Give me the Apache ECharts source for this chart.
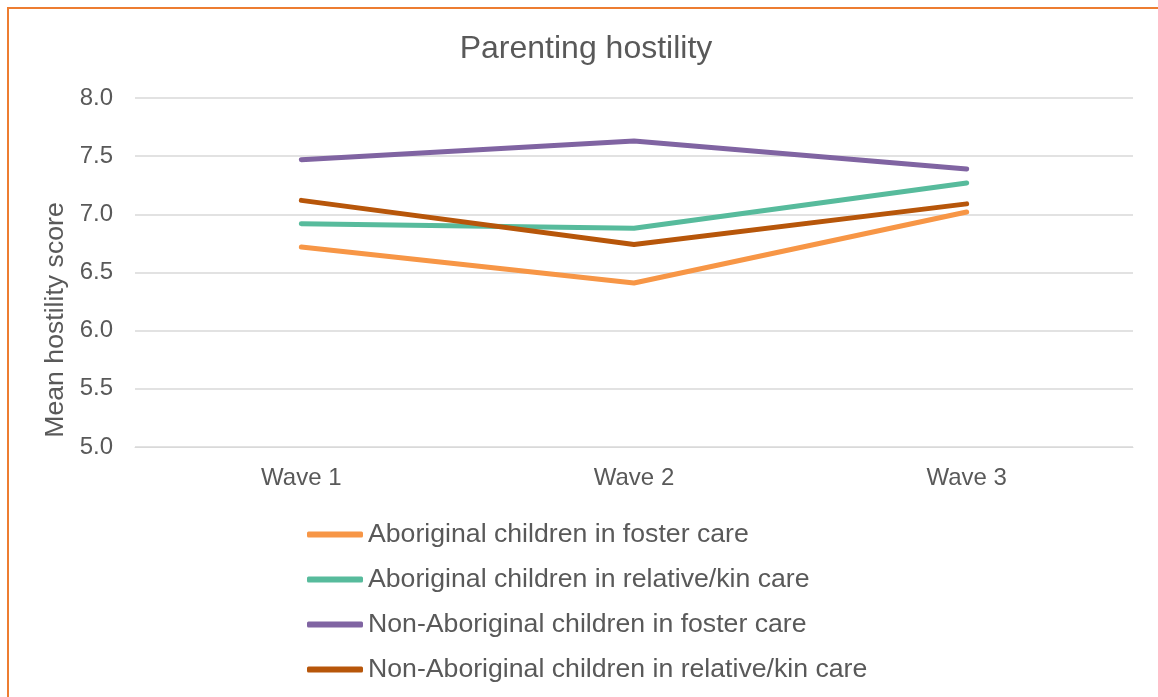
<!DOCTYPE html>
<html>
<head>
<meta charset="utf-8">
<title>Parenting hostility</title>
<script src="https://cdn.jsdelivr.net/npm/echarts@6/dist/echarts.min.js"></script>
<style>
  html, body { margin: 0; padding: 0; background: #fff; }
  #wrap { position: relative; width: 1158px; height: 697px; overflow: hidden; }
  #frame { position: absolute; left: 7px; top: 7px; width: 1200px; height: 740px; border: 2px solid #ED7D31; box-sizing: border-box; }
  #chart { position: absolute; left: 0; top: 0; width: 1158px; height: 697px; }
</style>
</head>
<body>
<div id="wrap">
  <div id="frame"></div>
  <div id="chart"></div>
</div>
<script>
const waves = ["Wave 1", "Wave 2", "Wave 3"];
const series_names = [
    "Aboriginal children in foster care",
    "Aboriginal children in relative/kin care",
    "Non-Aboriginal children in foster care",
    "Non-Aboriginal children in relative/kin care",
];
const abo_foster = [6.72, 6.41, 7.02];
const abo_kin = [6.92, 6.88, 7.27];
const non_abo_foster = [7.47, 7.63, 7.39];
const non_abo_kin = [7.12, 6.74, 7.09];
const colors = ["#F79646", "#57BB9C", "#8064A2", "#B7560A"];

const text_color = "#595959";
const font = "'Liberation Sans', Arial, sans-serif";

const values = [abo_foster, abo_kin, non_abo_foster, non_abo_kin];

const chart = echarts.init(document.getElementById("chart"), null, { renderer: "canvas" });

chart.setOption({
    animation: false,
    textStyle: { fontFamily: font, color: text_color },
    title: {
        text: "Parenting hostility",
        left: 581,
        textAlign: "center",
        top: 28,
        textStyle: { fontFamily: font, fontSize: 32, lineHeight: 32, fontWeight: "normal", color: text_color },
    },
    grid: { left: 135, right: 25, top: 98, bottom: 250 },
    legend: {
        orient: "vertical",
        left: 302,
        top: 516,
        itemWidth: 56,
        itemHeight: 6,
        itemGap: 18,
        icon: "roundRect",
        textStyle: { fontFamily: font, fontSize: 26.67, color: text_color, lineHeight: 27 },
        data: series_names,
    },
    xAxis: {
        type: "category",
        data: waves,
        boundaryGap: true,
        axisLine: { lineStyle: { color: "#D9D9D9", width: 1 } },
        axisTick: { show: false },
        axisLabel: { fontFamily: font, fontSize: 24, lineHeight: 24, color: text_color, margin: 19 },
    },
    yAxis: {
        type: "value",
        min: 5,
        max: 8,
        interval: 0.5,
        name: "Mean hostility score",
        nameLocation: "middle",
        nameGap: 64,
        nameTextStyle: { fontFamily: font, fontSize: 26.67, lineHeight: 27, color: text_color, padding: [0, 95, 0, 0] },
        axisLine: { show: false },
        axisTick: { show: false },
        axisLabel: { fontFamily: font, fontSize: 24, color: text_color, margin: 22, formatter: (v) => v.toFixed(1) },
        splitLine: { lineStyle: { color: "#D9D9D9", width: 1.5 } },
    },
    series: series_names.map((name, i) => ({
        name,
        type: "line",
        data: values[i],
        symbol: "none",
        color: colors[i],
        lineStyle: { width: 5, color: colors[i], cap: "round", join: "round" },
        itemStyle: { color: colors[i] },
    })),
});
</script>
</body>
</html>
